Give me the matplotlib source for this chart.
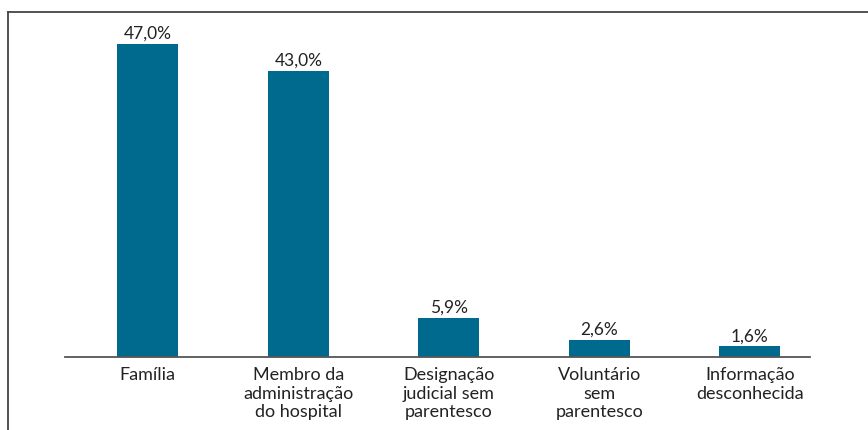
import matplotlib
matplotlib.use("Agg")
import matplotlib.pyplot as plt
from matplotlib.lines import Line2D

categories = ["Família", "Membro da\nadministração\ndo hospital", "Designação\njudicial sem\nparentesco",
              "Voluntário\nsem\nparentesco", "Informação\ndesconhecida"]
values = [47.0, 43.0, 5.9, 2.6, 1.6]
value_labels = ["47,0%", "43,0%", "5,9%", "2,6%", "1,6%"]

W, H = 868, 430
fig = plt.figure(figsize=(W / 100, H / 100), dpi=100)
fig.patch.set_facecolor("white")

left, right, base, top = 65, 810, 357, 44
ax = fig.add_axes([left / W, (H - base) / H, (right - left) / W, (base - top) / H])
x = list(range(len(categories)))
ax.bar(x, values, width=0.405, color="#006A8E")
ax.set_xlim(-0.55, 4.4)
ax.set_ylim(0, 47)
for s in ["top", "right", "left"]:
    ax.spines[s].set_visible(False)
ax.spines["bottom"].set_color("#555555")
ax.spines["bottom"].set_linewidth(1.3)
ax.set_yticks([])
ax.set_xticks(x)
ax.set_xticklabels(categories, fontsize=13, color="#222222", family="Lato", linespacing=1.18)
ax.tick_params(axis="x", length=0, pad=7.5)
for xi, v, lab in zip(x, values, value_labels):
    ax.annotate(lab, (xi, v), xytext=(0, 1.5), textcoords="offset points", ha="center", va="bottom",
                fontsize=12.5, color="#222222", family="Lato")

# frame lines
fig.add_artist(Line2D([8 / W, 1], [1 - 12 / H, 1 - 12 / H], transform=fig.transFigure, color="#444444", lw=1.3))
fig.add_artist(Line2D([8 / W, 8 / W], [0, 1 - 12 / H], transform=fig.transFigure, color="#444444", lw=1.3))

fig.savefig("out.png", dpi=100)
